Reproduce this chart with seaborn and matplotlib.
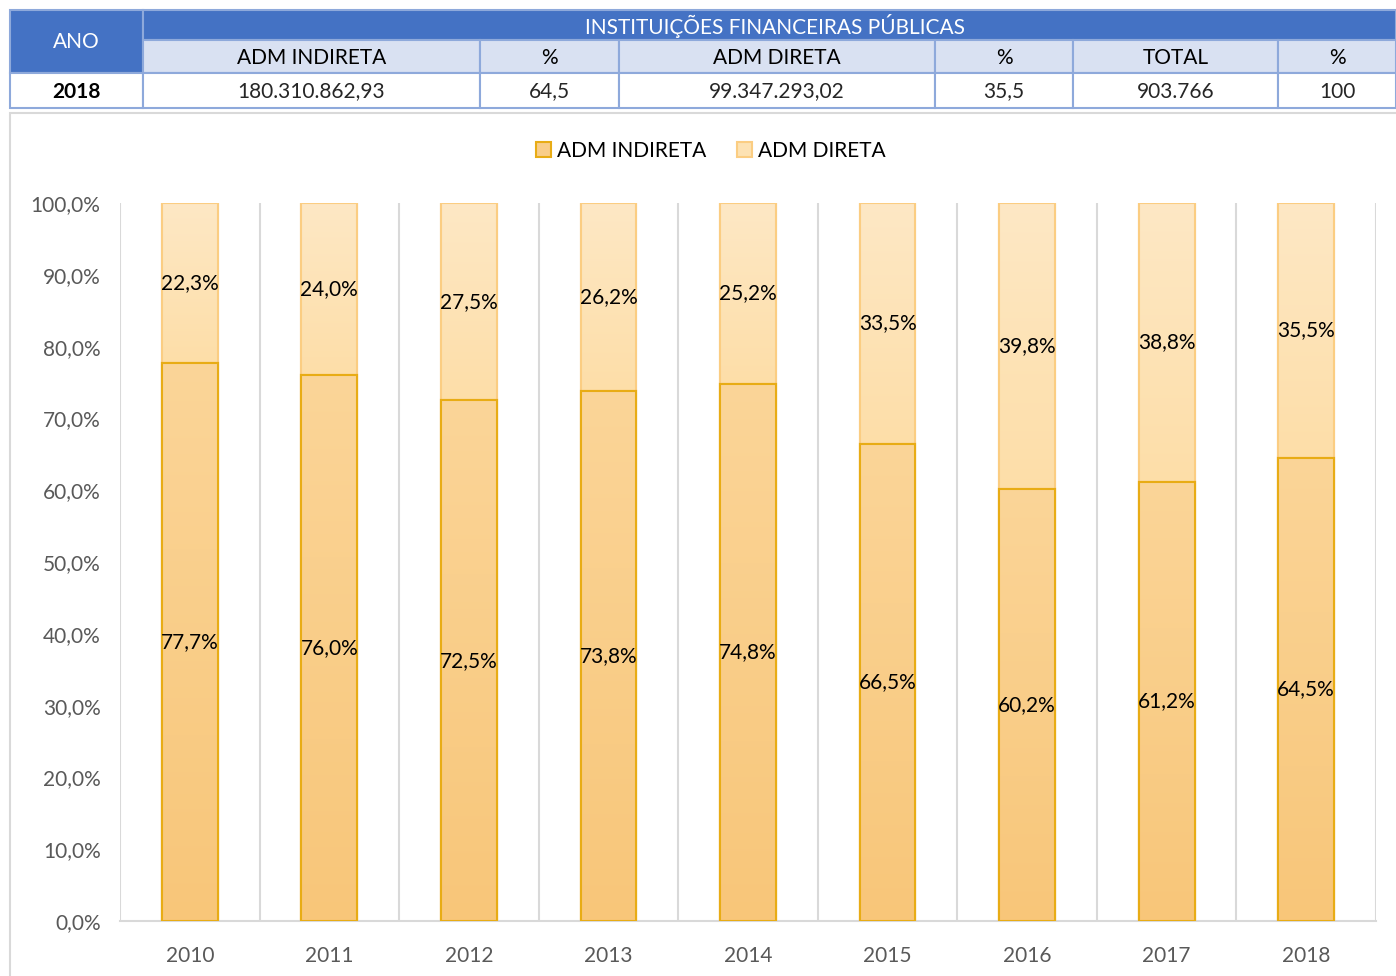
import numpy as np
import pandas as pd
import matplotlib
matplotlib.use('Agg')
import matplotlib.pyplot as plt
import seaborn as sns
from matplotlib.patches import Rectangle, Patch
from matplotlib.colors import LinearSegmentedColormap

anos = ['2010', '2011', '2012', '2013', '2014', '2015', '2016', '2017', '2018']
adm_indireta = [77.7, 76.0, 72.5, 73.8, 74.8, 66.5, 60.2, 61.2, 64.5]
adm_direta = [22.3, 24.0, 27.5, 26.2, 25.2, 33.5, 39.8, 38.8, 35.5]

tab_header = ['ADM INDIRETA', '%', 'ADM DIRETA', '%', 'TOTAL', '%']
tab_row = ['180.310.862,93', '64,5', '99.347.293,02', '35,5', '903.766', '100']

sns.set_theme(style='white')
plt.rcParams['font.family'] = ['Lato', 'DejaVu Sans']

W, H = 1396, 976
fig = plt.figure(figsize=(W / 100, H / 100), dpi=100)

def fx(px):
    return px / W

def fy(py):
    return 1 - py / H

# ---- tabela no topo
blue = '#4472C4'
light = '#D9E1F2'
line = '#8EA9DB'
cols = [10, 143, 480, 619, 935, 1073, 1278, 1396]
rows = [10, 40, 73, 108]

def cell(x0, x1, y0, y1, color):
    fig.patches.append(Rectangle((fx(x0), fy(y1)), fx(x1) - fx(x0), fy(y0) - fy(y1),
                                 transform=fig.transFigure, facecolor=color,
                                 edgecolor=line, linewidth=1.5))

cell(cols[0], cols[1], rows[0], rows[2], blue)
cell(cols[1], cols[-1], rows[0], rows[1], blue)
for i in range(6):
    cell(cols[i + 1], cols[i + 2], rows[1], rows[2], light)
for i in range(7):
    cell(cols[i], cols[i + 1], rows[2], rows[3], 'white')

fs = 15
fig.text(fx((cols[0] + cols[1]) / 2), fy((rows[0] + rows[2]) / 2), 'ANO', color='white',
         fontsize=fs, ha='center', va='center')
fig.text(fx(775), fy((rows[0] + rows[1]) / 2 + 1), 'INSTITUIÇÕES FINANCEIRAS PÚBLICAS',
         color='white', fontsize=fs, ha='center', va='center')
for i, t in enumerate(tab_header):
    fig.text(fx((cols[i + 1] + cols[i + 2]) / 2), fy((rows[1] + rows[2]) / 2 + 1), t,
             color='black', fontsize=fs, ha='center', va='center')
fig.text(fx((cols[0] + cols[1]) / 2), fy((rows[2] + rows[3]) / 2 + 1), anos[-1],
         color='black', fontsize=fs, ha='center', va='center', fontweight='bold')
for i, t in enumerate(tab_row):
    fig.text(fx((cols[i + 1] + cols[i + 2]) / 2), fy((rows[2] + rows[3]) / 2 + 1), t,
             color='#262626', fontsize=fs, ha='center', va='center')

# ---- moldura do grafico
fig.patches.append(Rectangle((fx(10), fy(980)), fx(1400) - fx(10), fy(113) - fy(980),
                             transform=fig.transFigure, facecolor='none',
                             edgecolor='#D9D9D9', linewidth=1.5))

# ---- grafico empilhado
ax = fig.add_axes([fx(120), fy(921), fx(1376) - fx(120), fy(203) - fy(921)])
ax.set_facecolor('none')

df = pd.DataFrame({'ano': anos, 'ind': adm_indireta, 'dir': adm_direta})
df['total'] = df['ind'] + df['dir']

cor_dir = '#FDE2B3'
cor_ind = '#F9CD89'
borda_dir = '#FBCD82'
borda_ind = '#E8AC15'
sns.barplot(data=df, x='ano', y='total', color=cor_dir, width=0.4, saturation=1,
            edgecolor=borda_dir, linewidth=1.5, ax=ax, zorder=2)
n_dir = len(ax.patches)
sns.barplot(data=df, x='ano', y='ind', color=cor_ind, width=0.4, saturation=1,
            edgecolor=borda_ind, linewidth=1.5, ax=ax, zorder=3)

# degradê vertical dentro das barras
grad_dir = LinearSegmentedColormap.from_list('gd', ['#FDDEA8', '#FEE8C5'])
grad_ind = LinearSegmentedColormap.from_list('gi', ['#F8C679', '#FBD598'])
grad = np.linspace(0, 1, 256).reshape(-1, 1)
for j, p in enumerate(list(ax.patches)):
    x0, w = p.get_x(), p.get_width()
    y0, h = p.get_y(), p.get_height()
    cmap = grad_dir if j < n_dir else grad_ind
    top = 100 if j < n_dir else h
    bot = adm_indireta[j] if j < n_dir else 0
    img = ax.imshow(grad, cmap=cmap, origin='lower', aspect='auto',
                    extent=(x0, x0 + w, bot, top), zorder=p.get_zorder() + 0.1)
    img.set_clip_path(p)
    ax.add_patch(Rectangle((x0, y0), w, h, facecolor='none', edgecolor=p.get_edgecolor(),
                           linewidth=1.5, zorder=p.get_zorder() + 0.2))

for i in range(len(anos)):
    ax.text(i, adm_indireta[i] / 2, f'{adm_indireta[i]:.1f}%'.replace('.', ','),
            ha='center', va='center', fontsize=fs, color='black', zorder=5)
    ax.text(i, adm_indireta[i] + adm_direta[i] / 2, f'{adm_direta[i]:.1f}%'.replace('.', ','),
            ha='center', va='center', fontsize=fs, color='black', zorder=5)

for k in range(len(anos) + 1):
    ax.axvline(k - 0.5, color='#D9D9D9', linewidth=1.5, zorder=1)

ax.set_xlim(-0.5, len(anos) - 0.5)
ax.set_ylim(0, 100)
ax.set_yticks(np.arange(0, 101, 10))
ax.set_yticklabels([f'{v:.1f}%'.replace('.', ',') for v in np.arange(0, 101, 10)])
ax.tick_params(axis='y', colors='#595959', labelsize=fs, length=0, pad=14)
ax.tick_params(axis='x', colors='#595959', labelsize=fs, length=0, pad=18)
ax.set_xlabel('')
ax.set_ylabel('')
for s in ['top', 'right', 'left']:
    ax.spines[s].set_visible(False)
ax.spines['bottom'].set_color('#D9D9D9')
ax.spines['bottom'].set_linewidth(1.5)

handles = [Patch(facecolor=cor_ind, edgecolor=borda_ind, linewidth=1.5, label='ADM INDIRETA'),
           Patch(facecolor=cor_dir, edgecolor=borda_dir, linewidth=1.5, label='ADM DIRETA')]
fig.legend(handles=handles, loc='center', bbox_to_anchor=(fx(711), fy(151)), ncol=2,
           frameon=False, fontsize=fs, handlelength=0.7, handleheight=0.7,
           handletextpad=0.3, columnspacing=1.5, labelcolor='black')

fig.savefig('out.png', dpi=100)
